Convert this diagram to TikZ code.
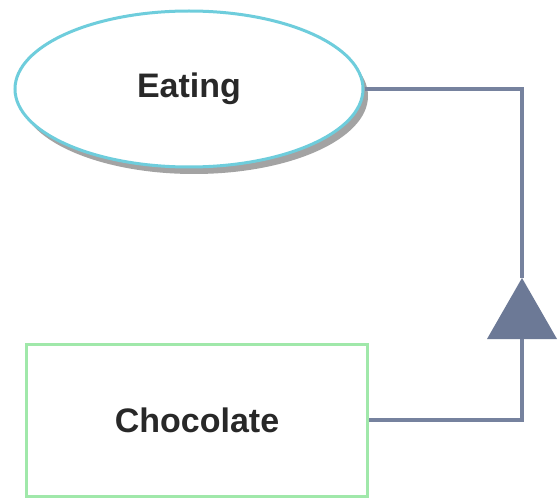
\documentclass[tikz,border=0pt]{standalone}
\usepackage{fontspec}
\setmainfont{Liberation Sans}
\usetikzlibrary{shapes.geometric,shadows}
\definecolor{ellcol}{RGB}{110,205,220}
\definecolor{boxcol}{RGB}{160,232,170}
\definecolor{linecol}{RGB}{118,130,158}
\definecolor{tricol}{RGB}{108,121,150}
\definecolor{txtcol}{RGB}{40,40,40}
\tikzset{
  lbl/.style={font=\fontsize{34}{40}\selectfont\bfseries, text=txtcol},
  usecase/.style={ellipse, draw=ellcol, line width=3pt, fill=white,
    minimum width=348pt, minimum height=156pt, inner sep=0pt,
    drop shadow={shadow xshift=5pt, shadow yshift=-7pt, fill=black!45, opacity=0.8}},
  actorbox/.style={rectangle, draw=boxcol, line width=3pt, fill=white,
    minimum width=341pt, minimum height=152pt, inner sep=0pt},
  conn/.style={draw=linecol, line width=4pt},
  genhead/.style={fill=tricol, draw=none}
}
\begin{document}
\begin{tikzpicture}[x=1pt,y=-1pt]
\useasboundingbox[fill=white] (0,0) rectangle (560,500);
\node[usecase, lbl] (eating) at (189,89) {Eating};
\node[actorbox, lbl] (choc) at (197,420) {Chocolate};
\coordinate (apex) at (522,278);
\coordinate (base) at (522,338);
\draw[conn] (choc.east) -| (base);
\draw[conn] (eating.east) -| (apex);
\fill[genhead] (apex) -- ++(35,61) -- ++(-70,0) -- cycle;
\end{tikzpicture}
\end{document}
